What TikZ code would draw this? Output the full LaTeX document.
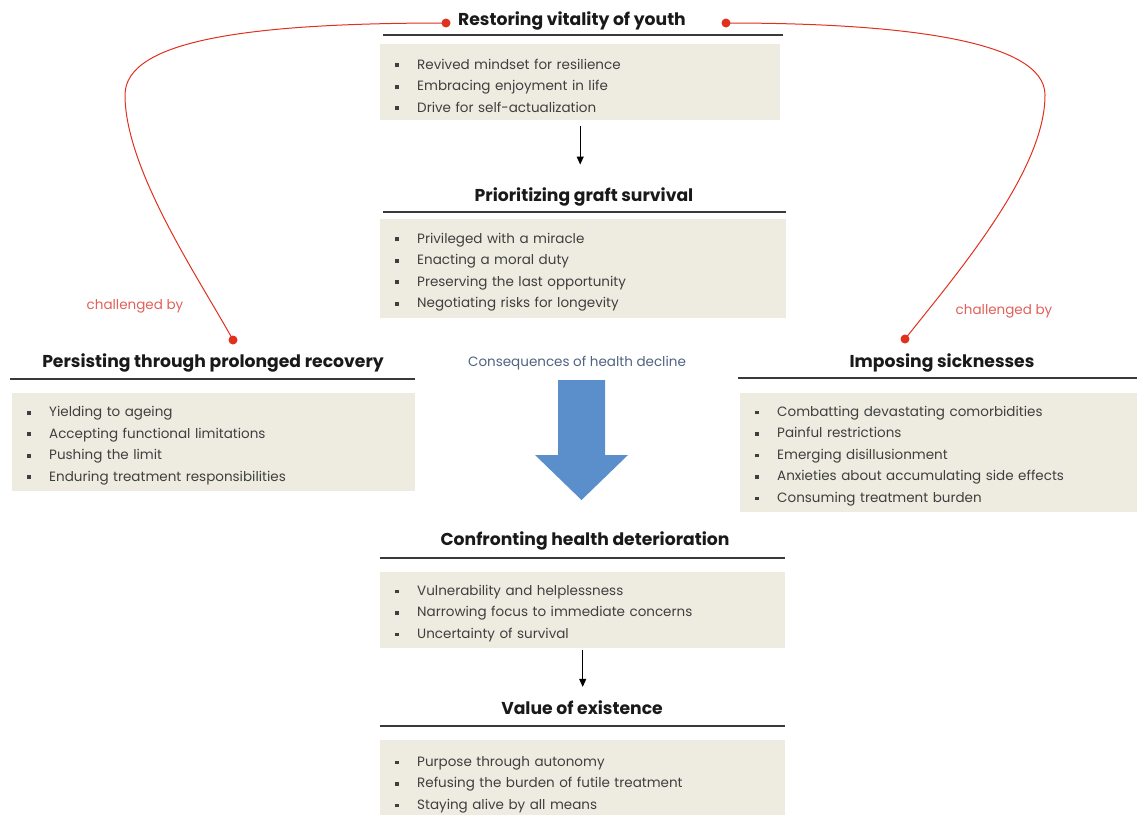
\documentclass[tikz,border=0pt]{standalone}
\usepackage{fontspec}
\setmainfont{Poppins}
\usetikzlibrary{arrows.meta,positioning}
\definecolor{boxgray}{HTML}{EEECE1}
\definecolor{rulegray}{HTML}{3A3A3A}
\definecolor{textgray}{HTML}{3F3F3F}
\definecolor{linkred}{HTML}{E0301E}
\definecolor{labelred}{HTML}{E0605A}
\definecolor{slateblue}{HTML}{4F6382}
\definecolor{arrowblue}{HTML}{5B8FCC}
\newcommand{\bsq}{\rule{0pt}{17pt}\makebox[22pt][l]{\raisebox{2pt}{\rule{3.8pt}{3.8pt}}}}

\begin{document}
\begin{tikzpicture}[x=1pt,y=-1pt,
  title/.style={font=\fontsize{17.2}{19}\selectfont\bfseries,text=black!90,inner sep=0pt},
  itembox/.style={fill=boxgray,anchor=north west,align=left,text width=#1,
               inner xsep=15pt,inner ysep=0pt,
               font=\fontsize{13.5}{21.5}\selectfont,text=textgray},
  note/.style={font=\fontsize{13.5}{15}\selectfont,inner sep=0pt},
  rule/.style={draw=rulegray,line width=1.3pt},
  arr/.style={-{Triangle[length=8pt,width=7pt]},line width=1pt,black},
  link/.style={draw=linkred,line width=1pt},
  dot/.style={fill=linkred}]
  \useasboundingbox (0,0) rectangle (1137,814);

  % upper themes
  \node[title] (yt) at (572,21) {Restoring vitality of youth};
  \draw[rule] (383,35) -- (783,35);
  \node[itembox=370pt,minimum height=76pt] (yb) at (380,44)
    {\bsq Revived mindset for resilience\\
     \bsq Embracing enjoyment in life\\
     \bsq Drive for self-actualization};

  \node[title] (gt) at (584,197) {Prioritizing graft survival};
  \draw[rule] (383,212) -- (786,212);
  \node[itembox=376pt,minimum height=99pt] (gb) at (380,219)
    {\bsq Privileged with a miracle\\
     \bsq Enacting a moral duty\\
     \bsq Preserving the last opportunity\\
     \bsq Negotiating risks for longevity};

  % side themes
  \node[title] (pt) at (213,363) {Persisting through prolonged recovery};
  \draw[rule] (10,379) -- (415,379);
  \node[itembox=373pt,minimum height=98pt] (pb) at (12,393)
    {\bsq Yielding to ageing\\
     \bsq Accepting functional limitations\\
     \bsq Pushing the limit\\
     \bsq Enduring treatment responsibilities};

  \node[title] (st) at (942,363) {Imposing sicknesses};
  \draw[rule] (738,378) -- (1137,378);
  \node[itembox=367pt,minimum height=119pt] (sb) at (740,393)
    {\bsq Combatting devastating comorbidities\\
     \bsq Painful restrictions\\
     \bsq Emerging disillusionment\\
     \bsq Anxieties about accumulating side effects\\
     \bsq Consuming treatment burden};

  % decline
  \node[note,text=slateblue] (cd) at (577,363) {Consequences of health decline};
  \fill[arrowblue] (558,380) -- (605,380) -- (605,455) -- (628,455)
    -- (581.5,500) -- (535,455) -- (558,455) -- cycle;

  % lower themes
  \node[title] (ct) at (585,541) {Confronting health deterioration};
  \draw[rule] (380,558) -- (785,558);
  \node[itembox=375pt,minimum height=76pt] (cb) at (380,572)
    {\bsq Vulnerability and helplessness\\
     \bsq Narrowing focus to immediate concerns\\
     \bsq Uncertainty of survival};

  \node[title] (vt) at (582,708) {Value of existence};
  \draw[rule] (380,726) -- (785,726);
  \node[itembox=375pt,minimum height=82pt] (vb) at (380,740)
    {\bsq Purpose through autonomy\\
     \bsq Refusing the burden of futile treatment\\
     \bsq Staying alive by all means};

  \draw[arr,shorten <=6pt,shorten >=23pt] (yb.south) -- (yb.south |- gt.north);
  \draw[arr,shorten <=2pt,shorten >=14pt] (cb.south) -- (cb.south |- vt.north);

  % challenges
  \coordinate (ytl) at (446,23);
  \coordinate (ytr) at (726,23);
  \coordinate (ptd) at (233,340);
  \coordinate (std) at (905,339);
  \draw[link] (ytl) .. controls (250,23) and (125,40) .. (125,95)
    .. controls (125,170) and (200,280) .. (ptd);
  \draw[link] (ytr) .. controls (900,23) and (1045,40) .. (1045,95)
    .. controls (1045,170) and (960,270) .. (std);
  \foreach \d in {ytl,ytr,ptd,std}
    \fill[dot] (\d) circle (4.5pt);
  \node[note,text=labelred] (cl) at (135,306) {challenged by};
  \node[note,text=labelred] (cr) at (1004,311) {challenged by};
\end{tikzpicture}
\end{document}
